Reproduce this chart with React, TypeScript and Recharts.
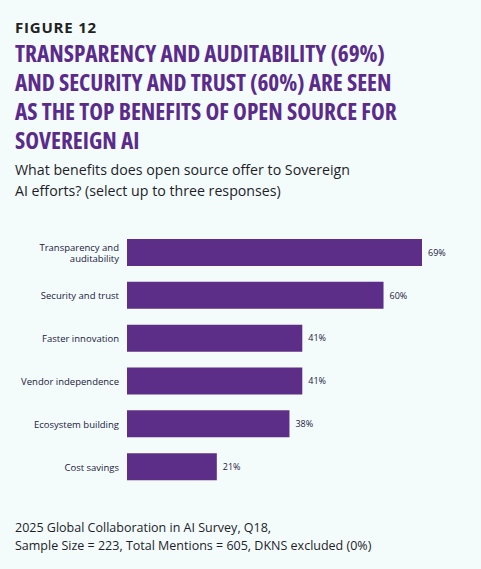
import { BarChart, Bar, XAxis, YAxis, LabelList } from "recharts";

const categories = [
  "Transparency and auditability",
  "Security and trust",
  "Faster innovation",
  "Vendor independence",
  "Ecosystem building",
  "Cost savings",
];
const shares = [69, 60, 41, 41, 38, 21];
// how the long category name breaks on the axis
const tickLines: Record<string, string[]> = {
  "Transparency and auditability": ["Transparency and", "auditability"],
};

const data = categories.map((name, i) => ({ name, share: shares[i] }));

const BG = "#f3fbfb";
const PURPLE = "#5c2e88";
const INK = "#1c2140";

const CategoryTick = (props: any) => {
  const { x, y, payload } = props;
  const lines = tickLines[payload.value] || [payload.value];
  const lh = 11;
  const start = y - ((lines.length - 1) * lh) / 2;
  return (
    <text
      x={x}
      y={start}
      textAnchor="end"
      dominantBaseline="central"
      fill={INK}
      fontSize={9.5}
      fontFamily="'Open Sans', sans-serif"
    >
      {lines.map((l, i) => (
        <tspan key={i} x={x} dy={i === 0 ? 0 : lh}>
          {l}
        </tspan>
      ))}
    </text>
  );
};

const App = () => {
  return (
    <div
      style={{
        position: "absolute",
        top: 0,
        left: 0,
        width: 481,
        height: 569,
        background: BG,
        fontFamily: "'Open Sans', sans-serif",
        overflow: "hidden",
      }}
    >
      <div
        style={{
          position: "absolute",
          top: 18,
          left: 15,
          fontSize: 15,
          lineHeight: "18px",
          fontWeight: 700,
          letterSpacing: 0.8,
          color: "#222",
        }}
      >
        FIGURE 12
      </div>
      <div
        style={{
          position: "absolute",
          top: 39,
          left: 15,
          width: 466,
          fontSize: 23.3,
          lineHeight: "29px",
          fontWeight: 700,
          fontStretch: "condensed",
          color: "#5b2b8c",
          whiteSpace: "nowrap",
        }}
      >
        TRANSPARENCY AND AUDITABILITY (69%)
        <br />
        AND SECURITY AND TRUST (60%) ARE SEEN
        <br />
        AS THE TOP BENEFITS OF OPEN SOURCE FOR
        <br />
        SOVEREIGN AI
      </div>
      <div
        style={{
          position: "absolute",
          top: 159,
          left: 15,
          fontSize: 14.2,
          lineHeight: "21px",
          color: "#1e1e2a",
          whiteSpace: "nowrap",
        }}
      >
        What benefits does open source offer to Sovereign
        <br />
        AI efforts? (select up to three responses)
      </div>

      <div style={{ position: "absolute", top: 220, left: 0 }}>
        <BarChart
          width={481}
          height={280}
          data={data}
          layout="vertical"
          margin={{ top: 11, right: 59, bottom: 12, left: 0 }}
          barSize={27}
        >
          <XAxis type="number" domain={[0, 69]} hide />
          <YAxis
            type="category"
            dataKey="name"
            width={127}
            axisLine={false}
            tickLine={false}
            tick={CategoryTick}
            interval={0}
          />
          <Bar dataKey="share" fill={PURPLE} isAnimationActive={false}>
            <LabelList
              dataKey="share"
              position="right"
              offset={6}
              formatter={(v: any) => `${v}%`}
              style={{ fontSize: 9, fill: INK, fontFamily: "'Open Sans', sans-serif" }}
            />
          </Bar>
        </BarChart>
      </div>

      <div
        style={{
          position: "absolute",
          top: 519,
          left: 15,
          fontSize: 12.5,
          lineHeight: "18px",
          color: "#1e1e2a",
          whiteSpace: "nowrap",
        }}
      >
        2025 Global Collaboration in AI Survey, Q18,
        <br />
        Sample Size = 223, Total Mentions = 605, DKNS excluded (0%)
      </div>
    </div>
  );
};

export default App;
